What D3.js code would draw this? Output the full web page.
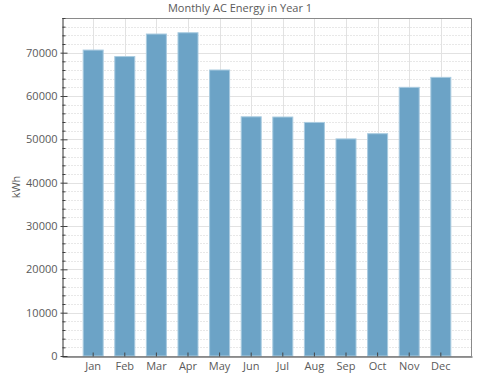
<!DOCTYPE html>
<html>
<head>
<meta charset="utf-8">
<script src="https://cdn.jsdelivr.net/npm/d3@7"></script>
<style>
  body { margin: 0; background: #fff; }
  text { font-family: "Open Sans", "Noto Sans", sans-serif; }
</style>
</head>
<body>
<div id="chart"></div>
<script>
// chart data
var months = ['Jan','Feb','Mar','Apr','May','Jun','Jul','Aug','Sep','Oct','Nov','Dec'];
var energy = [70600, 69100, 74300, 74600, 66000, 55200, 55150, 53900, 50100, 51300, 62000, 64300];
var yTicks = [0, 10000, 20000, 30000, 40000, 50000, 60000, 70000];

var width = 480, height = 379;
var margin = {top: 18, right: 8, bottom: 23, left: 62};

var svg = d3.select('#chart').append('svg')
  .attr('width', width)
  .attr('height', height);

var x = d3.scaleBand()
  .domain(months)
  .range([margin.left, width - margin.right])
  .paddingInner(0.367)
  .paddingOuter(0.67);

var y = d3.scaleLinear()
  .domain([0, 78000])
  .range([height - margin.bottom, margin.top]);

var minorTicks = d3.range(0, 78001, 2000).filter(function(d){ return d % 10000 !== 0; });

// grid lines
var grid = svg.append('g');
grid.selectAll('.minor').data(minorTicks).enter().append('line')
  .attr('x1', margin.left).attr('x2', width - margin.right)
  .attr('y1', function(d){ return Math.round(y(d)) + 0.5; })
  .attr('y2', function(d){ return Math.round(y(d)) + 0.5; })
  .attr('stroke', '#e8e8e8')
  .attr('stroke-dasharray', '2,1');
grid.selectAll('.major').data(yTicks).enter().append('line')
  .attr('x1', margin.left).attr('x2', width - margin.right)
  .attr('y1', function(d){ return Math.round(y(d)) + 0.5; })
  .attr('y2', function(d){ return Math.round(y(d)) + 0.5; })
  .attr('stroke', '#e2e2e2');
grid.selectAll('.vert').data(months).enter().append('line')
  .attr('x1', function(d){ return Math.round(x(d) + x.bandwidth()/2) + 0.5; })
  .attr('x2', function(d){ return Math.round(x(d) + x.bandwidth()/2) + 0.5; })
  .attr('y1', margin.top).attr('y2', height - margin.bottom)
  .attr('stroke', '#e2e2e2');

// bars
svg.append('g').selectAll('rect')
  .data(months.map(function(m, i){ return {month: m, value: energy[i]}; }))
  .enter().append('rect')
  .attr('x', function(d){ return x(d.month); })
  .attr('y', function(d){ return y(d.value); })
  .attr('width', x.bandwidth())
  .attr('height', function(d){ return y(0) - y(d.value); })
  .attr('fill', '#6ca3c6')
  .attr('stroke', '#a9cbe0')
  .attr('stroke-width', 1);

// frame (top and right)
svg.append('path')
  .attr('d', 'M' + margin.left + ',' + (margin.top + 0.5) + 'H' + (width - margin.right - 0.5) + 'V' + (height - margin.bottom))
  .attr('fill', 'none')
  .attr('stroke', '#8a8a8a');

// y axis
var yAxis = svg.append('g')
  .attr('transform', 'translate(' + (margin.left + 0.5) + ',0)');
yAxis.call(d3.axisRight(y).tickValues(minorTicks).tickSize(3).tickFormat(''));
yAxis.call(function(g){ g.select('.domain').remove(); });
var yMajor = svg.append('g')
  .attr('transform', 'translate(' + (margin.left + 0.5) + ',0)')
  .call(d3.axisLeft(y).tickValues(yTicks).tickSize(0).tickPadding(5).tickFormat(d3.format('d')));
yMajor.selectAll('.tick line').attr('x1', -2).attr('x2', 5);
yAxis.selectAll('line').attr('stroke', '#444');
yMajor.selectAll('line').attr('stroke', '#444');
yMajor.select('.domain').attr('stroke', '#333');
yMajor.selectAll('text').attr('font-size', 11).attr('fill', '#5a5a5a');
yMajor.attr('font-family', null);

// x axis
var xAxis = svg.append('g')
  .attr('transform', 'translate(0,' + (height - margin.bottom + 0.5) + ')')
  .call(d3.axisBottom(x).tickSizeOuter(0).tickSizeInner(0).tickPadding(6));
xAxis.selectAll('.tick line').attr('y1', -4).attr('y2', 0).attr('stroke', '#444');
xAxis.select('.domain').attr('stroke', '#333');
xAxis.selectAll('text').attr('font-size', 11).attr('fill', '#5a5a5a');
xAxis.attr('font-family', null);

// title
svg.append('text')
  .attr('x', width / 2)
  .attr('y', 12)
  .attr('text-anchor', 'middle')
  .attr('font-size', 11)
  .attr('fill', '#5a5a5a')
  .text('Monthly AC Energy in Year 1');

// y label
svg.append('text')
  .attr('transform', 'translate(20,' + ((margin.top + height - margin.bottom) / 2) + ') rotate(-90)')
  .attr('text-anchor', 'middle')
  .attr('font-size', 11)
  .attr('fill', '#5a5a5a')
  .text('kWh');
</script>
</body>
</html>
